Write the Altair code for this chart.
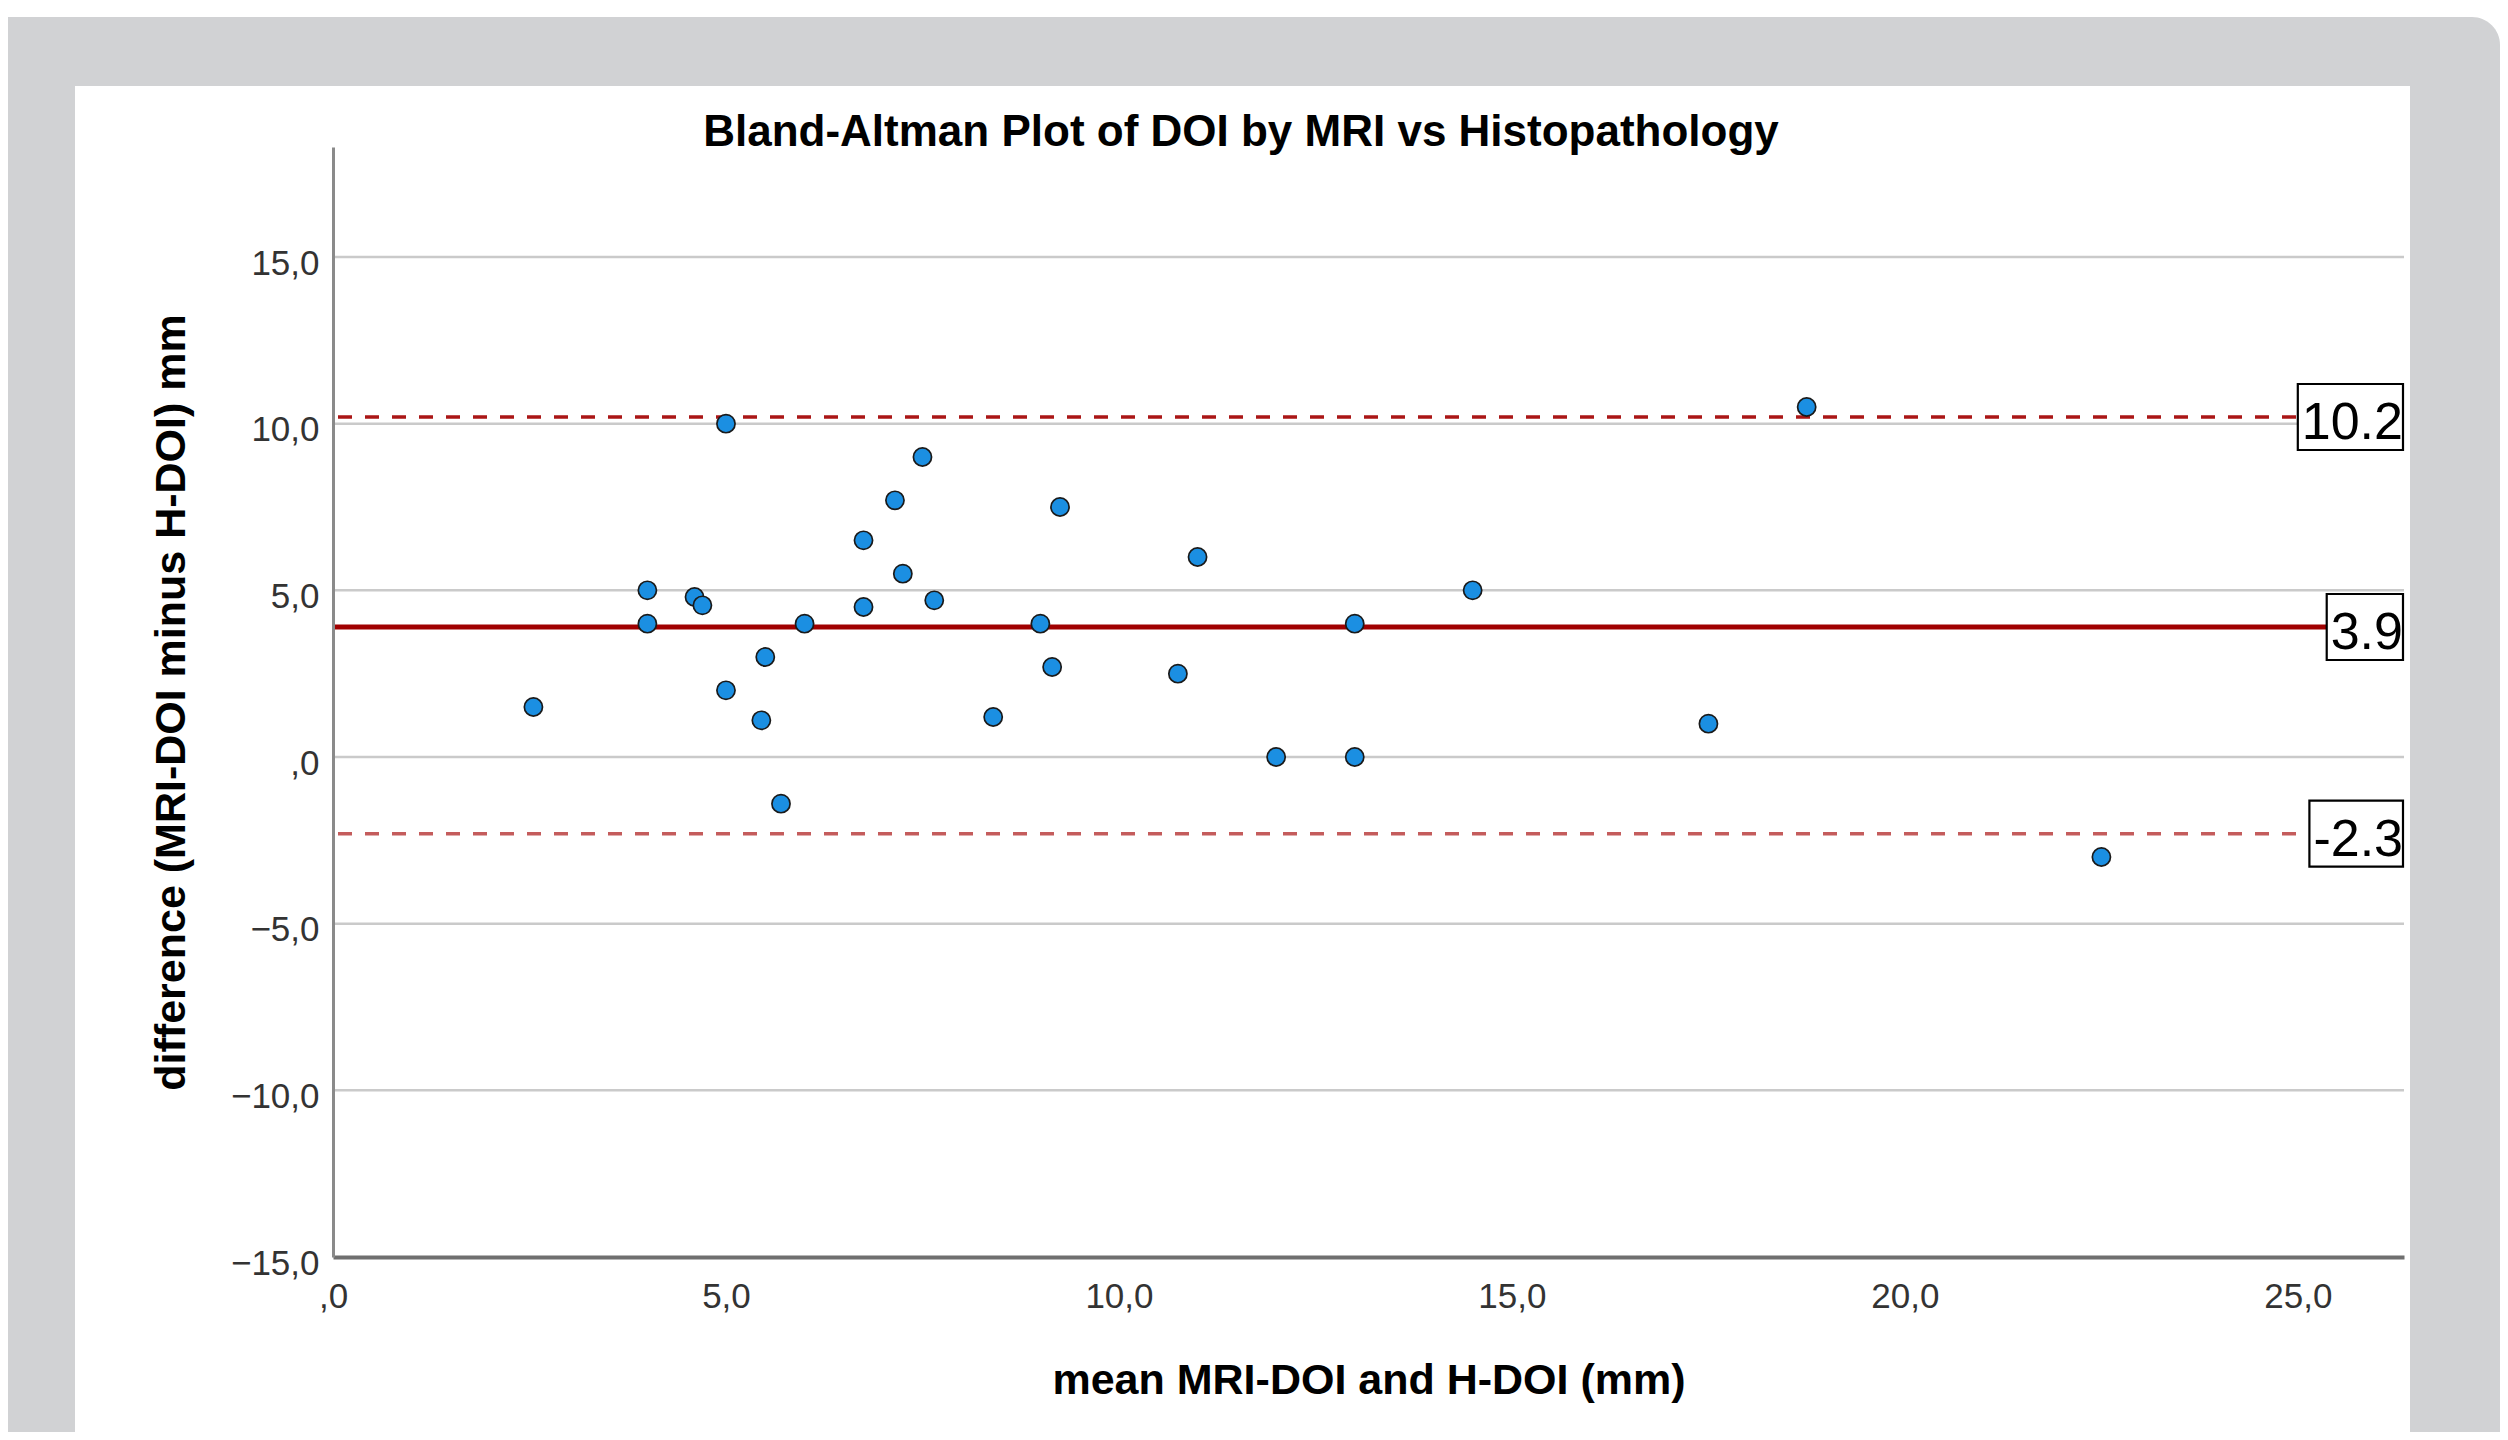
import altair as alt
import pandas as pd

# ---- data ----
mean_doi = [2.55, 4.0, 4.0, 4.6, 4.7, 5.0, 5.0, 5.45, 5.5, 5.7,
            6.0, 6.75, 6.75, 7.15, 7.25, 7.5, 7.65, 8.4, 9.0, 9.15,
            9.25, 10.75, 11.0, 12.0, 13.0, 13.0, 14.5, 17.5, 18.75, 22.5]
diff_doi = [1.5, 5.0, 4.0, 4.8, 4.55, 10.0, 2.0, 1.1, 3.0, -1.4,
            4.0, 6.5, 4.5, 7.7, 5.5, 9.0, 4.7, 1.2, 4.0, 2.7,
            7.5, 2.5, 6.0, 0.0, 4.0, 0.0, 5.0, 1.0, 10.5, -3.0]

ref_values = [10.2, 3.9, -2.3]
ref_labels = ["10.2", "3.9", "-2.3"]
ref_kinds = ["upper", "mean", "lower"]

x_ticks = [0, 5, 10, 15, 20, 25]
y_ticks = [-15, -10, -5, 0, 5, 10, 15]
grid_values = [-10, -5, 0, 5, 10, 15]

chart_title = "Bland-Altman Plot of DOI by MRI vs Histopathology"
x_title = "mean MRI-DOI and H-DOI (mm)"
y_title = "difference (MRI-DOI minus H-DOI) mm"

# ---- layout / style ----
W, H = 2071, 1110
PAD = {"left": 325, "top": 139, "right": 96, "bottom": 175}
FONT = "Liberation Sans"

xscale = alt.Scale(domain=[0, 26.35], nice=False, zero=False)
yscale = alt.Scale(domain=[-15, 18.3], nice=False, zero=False)

x_label_expr = "datum.value == 0 ? ',0' : replace(format(datum.value, '.1f'), '.', ',')"
y_label_expr = ("datum.value == 0 ? ',0' : "
                "replace(replace(format(datum.value, '.1f'), '.', ','), '-', '\u2212')")

x_axis = alt.Axis(
    values=x_ticks, labelExpr=x_label_expr, grid=False, ticks=False, zindex=1,
    domainColor="#6f6f6f", domainWidth=4, labelFont=FONT, labelFontSize=35,
    labelColor="#333333", labelPadding=22, labelFlush=False, labelOverlap=False,
    title=x_title, titleFont=FONT, titleFontSize=43, titleFontWeight="bold",
    titleColor="black", titleX=W / 2, titleY=136, titleAlign="center",
    titleBaseline="alphabetic")
y_axis = alt.Axis(
    values=y_ticks, labelExpr=y_label_expr, grid=False, ticks=False, zindex=1,
    domainColor="#8a8a8a", domainWidth=3, labelFont=FONT, labelFontSize=35,
    labelColor="#333333", labelPadding=14, labelOffset=6, labelFlush=False,
    labelOverlap=False, title=y_title, titleFont=FONT, titleFontSize=43,
    titleFontWeight="bold", titleColor="black", titleAngle=270, titleX=-149,
    titleY=H / 2, titleAlign="center", titleBaseline="alphabetic")


def Y(field):
    return alt.Y(field, scale=yscale, axis=y_axis)


one = pd.DataFrame({"d": [0]})

# background frame (grey surround + white panel)
bg_grey = alt.Chart(one).mark_rect(fill="#d1d2d4", cornerRadiusTopRight=28).encode(
    x=alt.value(-PAD["left"]), x2=alt.value(W + PAD["right"]),
    y=alt.value(-130), y2=alt.value(H + PAD["bottom"]))
bg_white = alt.Chart(one).mark_rect(fill="white").encode(
    x=alt.value(-258), x2=alt.value(2077),
    y=alt.value(-61), y2=alt.value(H + PAD["bottom"]))

grid = alt.Chart(pd.DataFrame({"v": grid_values})).mark_rule(
    color="#cacaca", strokeWidth=2.5).encode(y=Y("v:Q"))

ref_df = pd.DataFrame({"v": ref_values, "lab": ref_labels, "kind": ref_kinds})
ref_styles = {
    "upper": dict(color="#aa1616", strokeWidth=3.5, strokeDash=[14, 13]),
    "mean": dict(color="#a00000", strokeWidth=5),
    "lower": dict(color="#c45c5c", strokeWidth=3.5, strokeDash=[14, 13]),
}
ref_layers = []
for kind in ref_kinds:
    ref_layers.append(
        alt.Chart(ref_df).transform_filter(alt.datum.kind == kind)
        .mark_rule(**ref_styles[kind])
        .encode(y=Y("v:Q")))

points = alt.Chart(pd.DataFrame({"m": mean_doi, "d": diff_doi})).mark_point(
    filled=True, shape="circle", size=330, fill="#1b8fe2", stroke="#1a1a1a",
    strokeWidth=1.7, opacity=1).encode(
    x=alt.X("m:Q", scale=xscale, axis=x_axis),
    y=Y("d:Q"),
)

# boxed labels at the right end of the reference lines
LBL_SIZE = 52
char_w = {"0": .556, "1": .556, "2": .556, "3": .556, "4": .556, "5": .556,
          "6": .556, "7": .556, "8": .556, "9": .556, ".": .278, "-": .333}
box_layers = []
for lab in ref_labels:
    bw = sum(char_w[c] for c in lab) * LBL_SIZE + 5
    sub = alt.Chart(ref_df).transform_filter(alt.datum.lab == lab)
    box_layers.append(sub.mark_rect(fill="white", stroke="black", strokeWidth=2.2,
                                    yOffset=-33, y2Offset=33).encode(
        y=Y("v:Q"), y2="v:Q",
        x=alt.value(W - bw), x2=alt.value(W - 1)))
    box_layers.append(sub.mark_text(align="right", baseline="alphabetic", dy=22,
                                    font=FONT, fontSize=LBL_SIZE, color="black").encode(
        y=Y("v:Q"), x=alt.value(W - 1), text="lab:N"))

title_mark = alt.Chart(pd.DataFrame({"t": [chart_title]})).mark_text(
    align="center", baseline="alphabetic", font=FONT, fontSize=44,
    fontWeight="bold", color="black").encode(
    x=alt.value(908), y=alt.value(-1), text="t:N")

chart = alt.layer(bg_grey, bg_white, grid, *ref_layers, points, *box_layers,
                  title_mark).properties(
    width=W, height=H, padding=PAD,
    autosize=alt.AutoSizeParams(type="none"),
).configure_view(strokeWidth=0)

chart.save("out.html", embed_options={"renderer": "svg", "actions": False})
